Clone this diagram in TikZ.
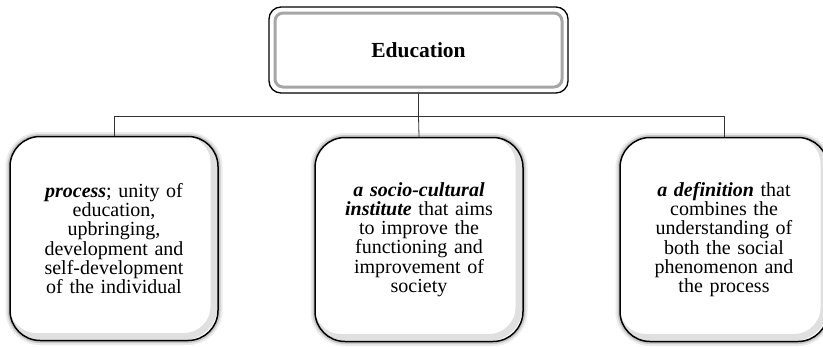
\documentclass[tikz,border=0pt]{standalone}
\usepackage{fontspec}
\setmainfont{Liberation Serif}
\begin{document}
\begin{tikzpicture}[x=1pt, y=-1pt, line join=round, line cap=round,
  font=\fontsize{20}{19.2}\selectfont,
  head/.style={draw, line width=1.3pt, rounded corners=12pt, fill=white, minimum width=299pt, minimum height=86pt, inner sep=0pt,
    font=\fontsize{21.5}{22}\selectfont\bfseries,
    path picture={\draw[black!35, line width=3pt, rounded corners=8pt] ([shift={(6pt,-6pt)}]path picture bounding box.north west) rectangle ([shift={(-6pt,6pt)}]path picture bounding box.south east);}},
  card/.style={draw, line width=1.5pt, rounded corners=30pt, fill=white, minimum width=208pt, minimum height=204pt, text width=186pt, inner sep=0pt, align=center,
    preaction={draw=black, line width=9pt, opacity=0.08},
    preaction={draw=black, line width=5pt, opacity=0.15},
    path picture={\draw[black, line width=7pt, opacity=0.12, rounded corners=30pt] ([shift={(-4pt,4pt)}]path picture bounding box.north west) rectangle ([shift={(-4pt,4pt)}]path picture bounding box.south east);}},
  link/.style={draw=black!80, line width=0.8pt}]
\useasboundingbox (0,0) rectangle (823,346);
\node[head] (edu) at (418.5,50) {Education};
\node[card] (proc) at (114,238.5) {\textbf{\textit{process}}; unity of\\ education,\\ upbringing,\\ development and\\ self-development\\ of the individual};
\node[card] (inst) at (419,239.5) {\textbf{\textit{a socio-cultural}}\\ \textbf{\textit{institute}} that aims\\ to improve the\\ functioning and\\ improvement of\\ society};
\node[card] (defn) at (724,239.5) {\textbf{\textit{a definition}} that\\ combines the\\ understanding of\\ both the social\\ phenomenon and\\ the process};
\coordinate (bar) at (0,116);
\draw[link] (edu.south) -- (edu.south |- bar) -| (proc.north);
\draw[link] (edu.south |- bar) -| (defn.north);
\draw[link] (edu.south |- bar) -- (inst.north);
\end{tikzpicture}
\end{document}
